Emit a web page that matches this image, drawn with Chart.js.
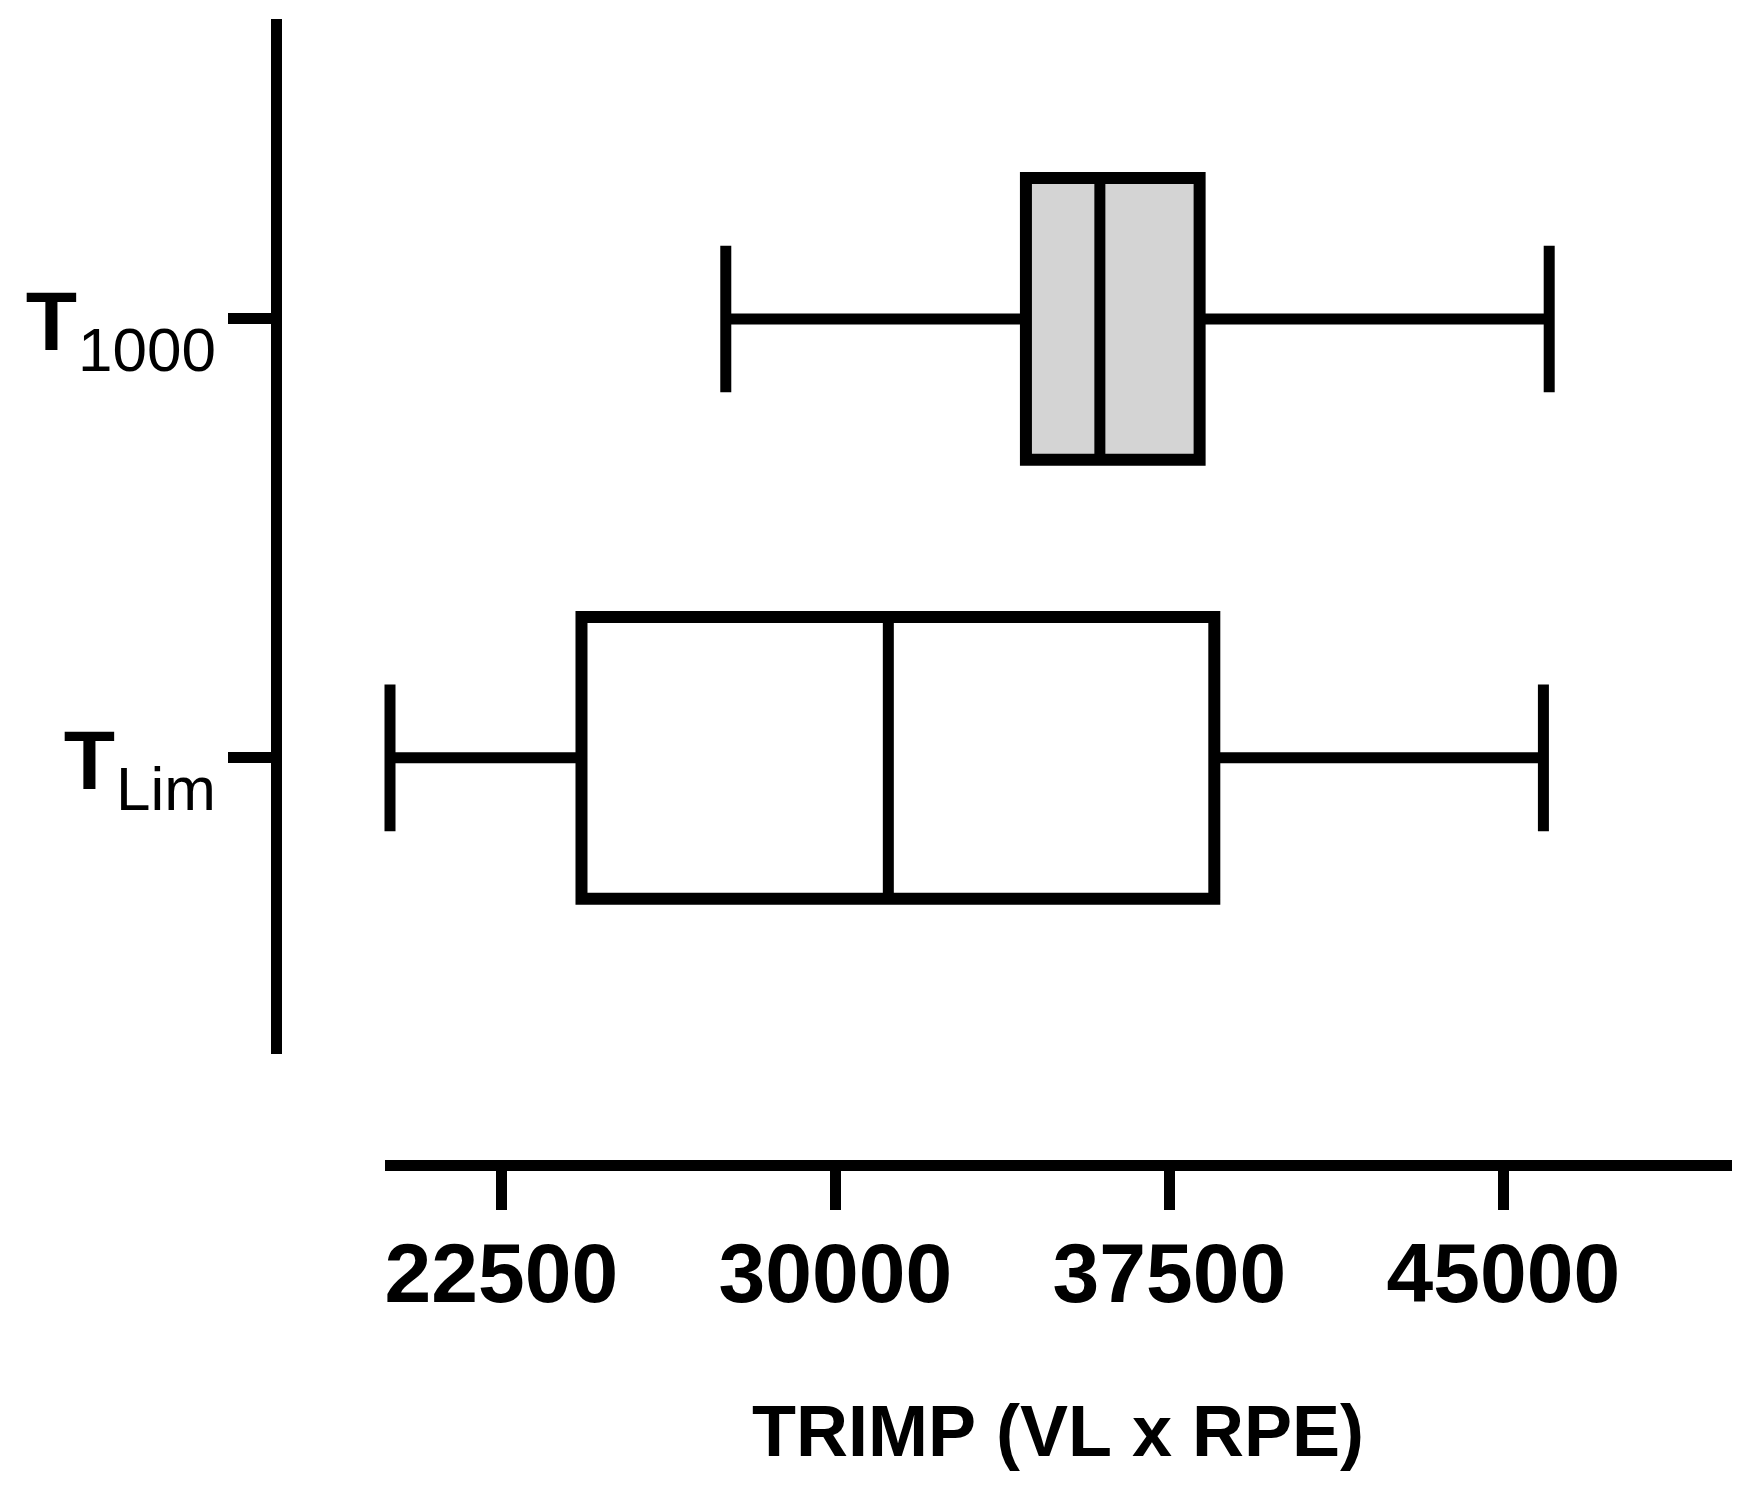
<!DOCTYPE html>
<html>
<head>
<meta charset="utf-8">
<title>TRIMP box plot</title>
<script src="https://cdn.jsdelivr.net/npm/chart.js@4/dist/chart.umd.min.js"></script>
<style>
    html, body { margin: 0; padding: 0; background: #ffffff; }
    #wrap { position: relative; width: 1752px; height: 1500px; }
</style>
</head>
<body>
<div id="wrap"><canvas id="chart"></canvas></div>
<script>
// -----------------------------
// DATA
// -----------------------------
const groups = ["T1000", "TLim"];
const groupMain = ["T", "T"];
const groupSub = ["1000", "Lim"];

const minValues = [27540, 20000];
const q1Values = [34280, 24300];
const medianValues = [35940, 31190];
const q3Values = [38180, 38510];
const maxValues = [46030, 45900];

const xTicks = [22500, 30000, 37500, 45000];
const xTitle = "TRIMP (VL x RPE)";


// -----------------------------
// STYLE
// -----------------------------
const FONT = "'Liberation Sans', Arial, sans-serif";
const boxColors = ["#d4d4d4", "#ffffff"];
const BOX_HALF = 0.321;   // half box height, in y-axis units
const CAP_HALF = 0.167;   // half whisker cap height


// -----------------------------
// BUILD SEGMENTS
// -----------------------------
const gap = () => ({ x: null, y: null });

let whiskerData = [];
let capData = [];
let medianData = [];
let boxData = [];

groups.forEach((g, i) => {
    const c = i + 1;

    whiskerData.push(
        { x: minValues[i], y: c }, { x: q1Values[i], y: c }, gap(),
        { x: q3Values[i], y: c }, { x: maxValues[i], y: c }, gap()
    );

    capData.push(
        { x: minValues[i], y: c - CAP_HALF }, { x: minValues[i], y: c + CAP_HALF }, gap(),
        { x: maxValues[i], y: c - CAP_HALF }, { x: maxValues[i], y: c + CAP_HALF }, gap()
    );

    medianData.push(
        { x: medianValues[i], y: c - BOX_HALF }, { x: medianValues[i], y: c + BOX_HALF }, gap()
    );

    // outline starts mid-way down the left side so the ends meet cleanly
    boxData.push(
        { x: q1Values[i], y: c },
        { x: q1Values[i], y: c - BOX_HALF },
        { x: q3Values[i], y: c - BOX_HALF },
        { x: q3Values[i], y: c + BOX_HALF },
        { x: q1Values[i], y: c + BOX_HALF },
        { x: q1Values[i], y: c },
        gap()
    );
});

function lineSet(data, width) {
    return {
        type: "line",
        data: data,
        borderColor: "#000000",
        borderWidth: width,
        borderCapStyle: "butt",
        borderJoinStyle: "miter",
        pointRadius: 0,
        fill: false,
        spanGaps: false,
        clip: false,
        order: 1
    };
}


// -----------------------------
// GROUP LABELS (T with subscript)
// -----------------------------
const groupLabelPlugin = {
    id: "groupLabels",
    afterDraw(chart) {
        const scale = chart.scales.y;
        const ctx = chart.ctx;
        ctx.save();
        ctx.fillStyle = "#000000";
        ctx.textBaseline = "alphabetic";
        ctx.textAlign = "right";

        scale.ticks.forEach((t, i) => {
            const y = scale.getPixelForTick(i);
            const right = scale.right - 60;

            ctx.font = "62px " + FONT;
            const subW = ctx.measureText(groupSub[i]).width;
            ctx.fillText(groupSub[i], right, y + 52);

            ctx.font = "bold 84px " + FONT;
            ctx.fillText(groupMain[i], right - subW - 1, y + 31);
        });

        ctx.restore();
    }
};


// -----------------------------
// INIT CHART
// -----------------------------
window.onload = function () {

    const ctx = document.getElementById("chart").getContext("2d");

    new Chart(ctx, {
        type: "bar",
        data: {
            datasets: [
                lineSet(medianData, 11),
                lineSet(boxData, 12),
                lineSet(whiskerData, 11),
                lineSet(capData, 11),
                {
                    type: "bar",
                    indexAxis: "y",
                    data: groups.map((g, i) => ({ x: [q1Values[i], q3Values[i]], y: i + 1 })),
                    backgroundColor: boxColors,
                    borderWidth: 0,
                    barThickness: 282,
                    order: 3
                }
            ]
        },
        options: {
            indexAxis: "y",
            responsive: true,
            maintainAspectRatio: false,
            animation: false,
            events: [],
            layout: {
                padding: { top: 24, right: 26, bottom: 0, left: 0 }
            },
            plugins: {
                legend: { display: false },
                tooltip: { enabled: false }
            },
            scales: {
                x: {
                    type: "linear",
                    position: "bottom",
                    weight: 1,
                    min: 20000,
                    max: 50000,
                    offset: false,
                    afterBuildTicks: s => { s.ticks = xTicks.map(v => ({ value: v })); },
                    afterFit: s => { s.height = 335; },
                    grid: { offset: false, drawOnChartArea: false, color: "#000000", lineWidth: 11, tickLength: 45 },
                    border: { display: true, color: "#000000", width: 11 },
                    ticks: {
                        color: "#000000",
                        padding: 18,
                        maxRotation: 0,
                        autoSkip: false,
                        font: { family: FONT, size: 84, weight: "bold" },
                        callback: v => String(v)
                    },
                    title: {
                        display: true,
                        text: xTitle,
                        color: "#000000",
                        font: { family: FONT, size: 72, weight: "bold" },
                        padding: { top: 0, bottom: 21 }
                    }
                },
                gapX: {
                    type: "linear",
                    axis: "x",
                    position: "bottom",
                    weight: 0,
                    min: 0,
                    max: 1,
                    afterFit: s => { s.height = 117; },
                    grid: { display: false },
                    border: { display: false },
                    ticks: { display: false }
                },
                y: {
                    type: "linear",
                    position: "left",
                    weight: 1,
                    reverse: true,
                    offset: false,
                    min: 0.328,
                    max: 2.661,
                    afterBuildTicks: s => { s.ticks = groups.map((g, i) => ({ value: i + 1 })); },
                    afterFit: s => { s.width = 276; },
                    grid: { offset: false, drawOnChartArea: false, color: "#000000", lineWidth: 11, tickLength: 48 },
                    border: { display: true, color: "#000000", width: 11 },
                    ticks: { display: false }
                },
                gapY: {
                    type: "linear",
                    axis: "y",
                    position: "left",
                    weight: 0,
                    min: 0,
                    max: 1,
                    afterFit: s => { s.width = 114; },
                    grid: { display: false },
                    border: { display: false },
                    ticks: { display: false }
                }
            }
        },
        plugins: [groupLabelPlugin]
    });
};
</script>
</body>
</html>
